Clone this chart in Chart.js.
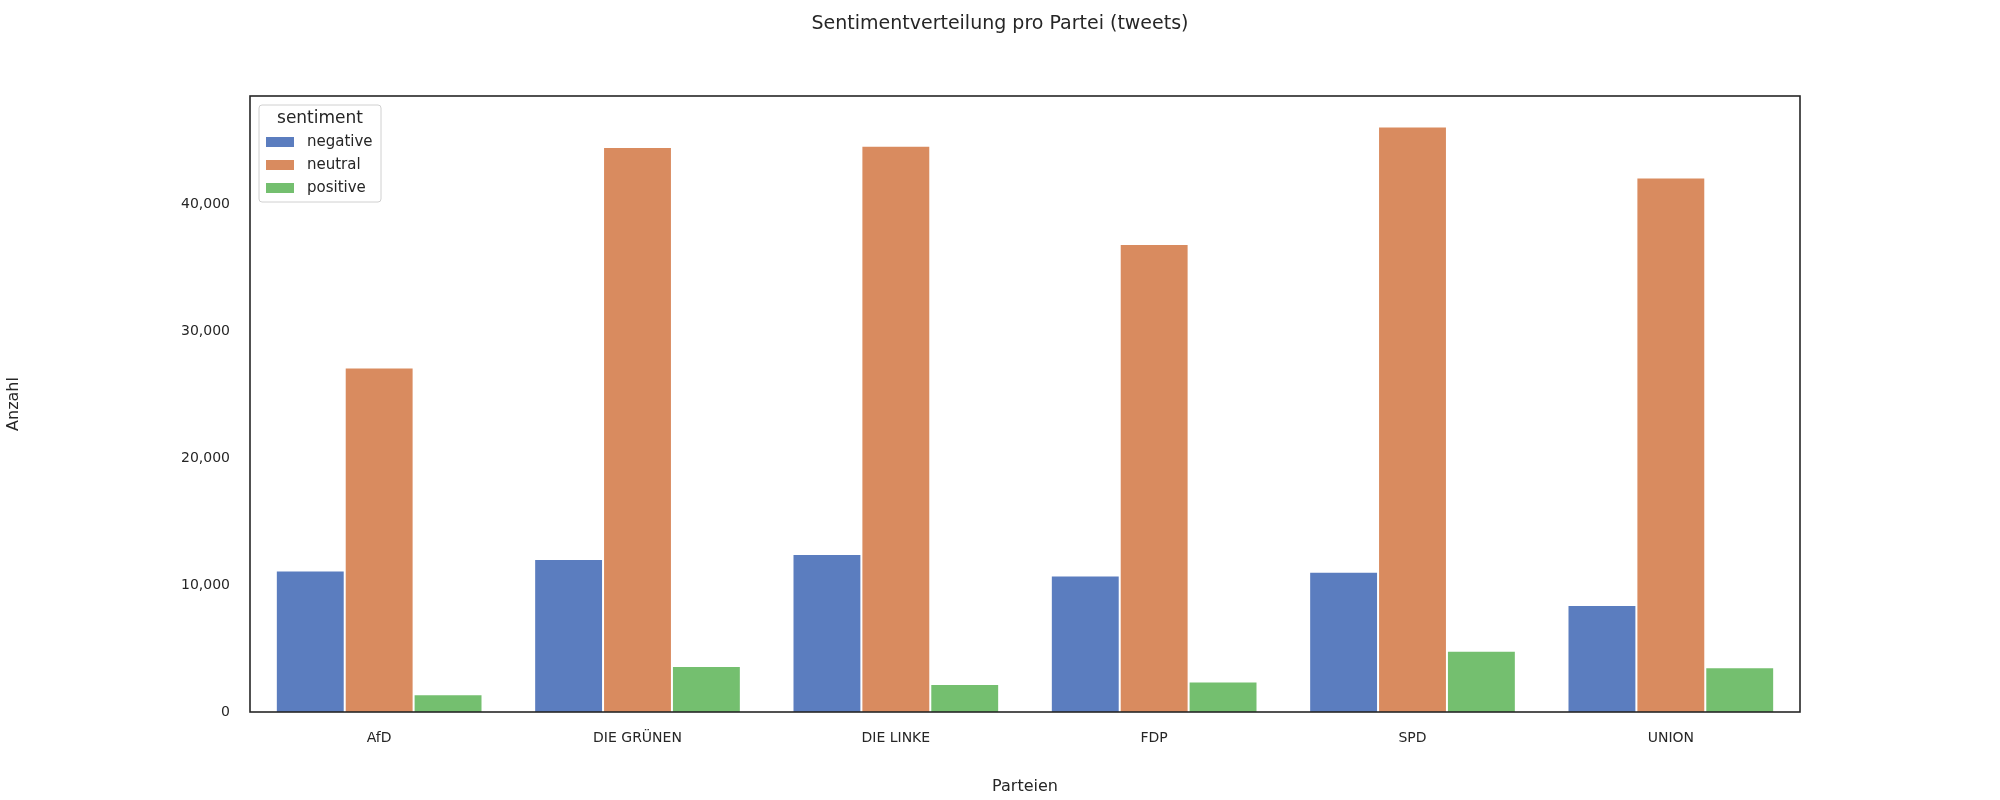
<!DOCTYPE html>
<html>
<head>
<meta charset="utf-8">
<script src="https://cdn.jsdelivr.net/npm/chart.js@4"></script>
<style>
  html, body { margin: 0; padding: 0; background: #fff; }
  #wrap { width: 2000px; height: 800px; }
</style>
</head>
<body>
<div id="wrap"><canvas id="c" width="2000" height="800"></canvas></div>
<script>
const parties = ["AfD", "DIE GRÜNEN", "DIE LINKE", "FDP", "SPD", "UNION"];
const negative = [11150, 12060, 12460, 10750, 11050, 8440];
const neutral = [27150, 44520, 44620, 36880, 46130, 42110];
const positive = [1400, 3620, 2210, 2410, 4820, 3520];
const yTicks = [0, 10000, 20000, 30000, 40000];

const FONT = "'DejaVu Sans', sans-serif";
const TXT = "#262626";

/* frame, title and in-plot legend */
const decor = {
    id: "decor",
    afterDraw(chart) {
        const ctx = chart.ctx, a = chart.chartArea;
        ctx.save();
        ctx.strokeStyle = "#262626";
        ctx.lineWidth = 1.6;
        ctx.strokeRect(a.left, a.top, a.right - a.left, a.bottom - a.top);

        ctx.fillStyle = TXT;
        ctx.font = "19px " + FONT;
        ctx.textAlign = "center";
        ctx.textBaseline = "middle";
        ctx.fillText("Sentimentverteilung pro Partei (tweets)", 1000, 24);

        // legend box
        const lx = a.left + 9, ly = a.top + 9, lw = 122, lh = 97;
        ctx.fillStyle = "rgba(255,255,255,0.8)";
        ctx.strokeStyle = "#d0d0d0";
        ctx.lineWidth = 1;
        ctx.beginPath();
        ctx.roundRect(lx, ly, lw, lh, 3);
        ctx.fill();
        ctx.stroke();
        ctx.fillStyle = TXT;
        ctx.font = "17px " + FONT;
        ctx.fillText("sentiment", lx + lw / 2, ly + 14);
        ctx.font = "15px " + FONT;
        ctx.textAlign = "left";
        chart.data.datasets.forEach((ds, i) => {
            const yy = ly + 37 + i * 23;
            ctx.fillStyle = ds.backgroundColor;
            ctx.fillRect(lx + 7, yy - 5, 28, 10);
            ctx.fillStyle = TXT;
            ctx.fillText(ds.label, lx + 48, yy);
        });
        ctx.restore();
    }
};

new Chart(document.getElementById("c"), {
    type: "bar",
    data: {
        labels: parties,
        datasets: [
            { label: "negative", data: negative, backgroundColor: "#5b7dbf" },
            { label: "neutral", data: neutral, backgroundColor: "#d98b5f" },
            { label: "positive", data: positive, backgroundColor: "#74bf6f" }
        ].map(d => Object.assign(d, {
            borderColor: "#ffffff", borderWidth: 1,
            categoryPercentage: 0.8, barPercentage: 1.0
        }))
    },
    options: {
        responsive: false,
        animation: false,
        layout: { padding: { left: 0, right: 200, top: 96, bottom: 0 } },
        plugins: { legend: { display: false }, title: { display: false }, tooltip: { enabled: false } },
        scales: {
            x: {
                grid: { display: false },
                border: { display: false },
                ticks: { color: TXT, font: { family: FONT, size: 14 }, padding: 10 },
                title: { display: true, text: "Parteien", color: TXT, font: { family: FONT, size: 16 }, padding: { top: 4 } },
                afterFit(s) { s.height = 88; }
            },
            y: {
                min: 0, max: 48540,
                grid: { display: false },
                border: { display: false },
                afterBuildTicks(s) { s.ticks = yTicks.map(v => ({ value: v })); },
                ticks: { color: TXT, font: { family: FONT, size: 14 }, padding: 12 },
                title: { display: true, text: "Anzahl", color: TXT, font: { family: FONT, size: 16 }, padding: { bottom: 10 } },
                afterFit(s) { s.width = 250; }
            }
        }
    },
    plugins: [decor]
});
</script>
</body>
</html>
